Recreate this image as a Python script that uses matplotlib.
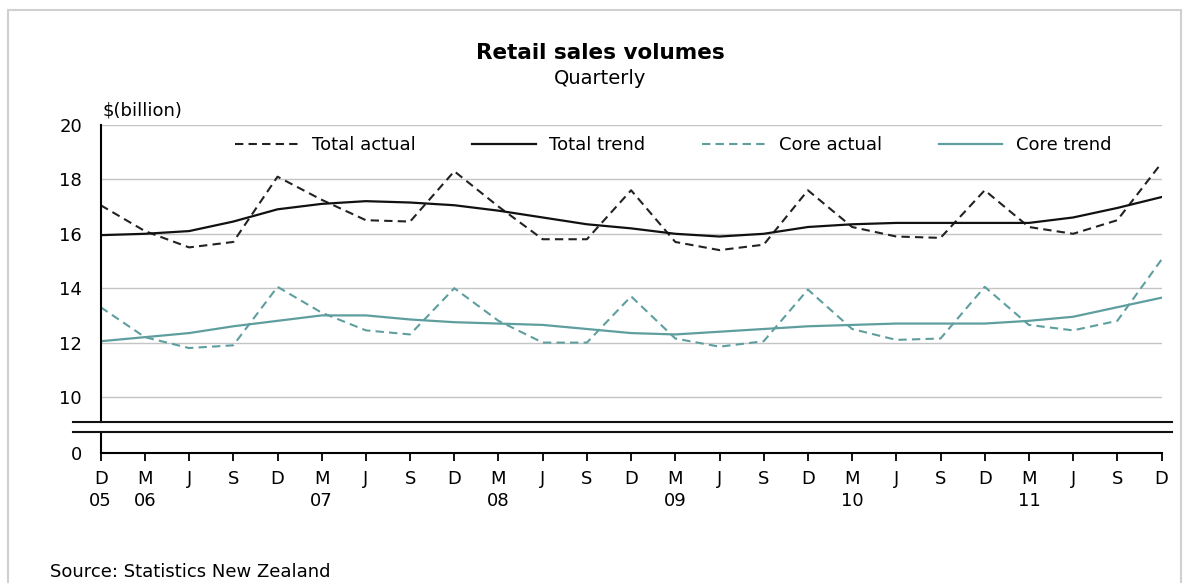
import numpy as np
import matplotlib
matplotlib.use("Agg")
import matplotlib.pyplot as plt
from matplotlib.lines import Line2D
from matplotlib.patches import Rectangle

# quarterly, Dec 2005 .. Dec 2011
months = ["D", "M", "J", "S"] * 6 + ["D"]
years = {0: "05", 1: "06", 5: "07", 9: "08", 13: "09", 17: "10", 21: "11"}

total_actual = [17.05, 16.1, 15.5, 15.7, 18.1, 17.25, 16.5, 16.45, 18.3, 17.0,
                15.8, 15.8, 17.6, 15.7, 15.4, 15.6, 17.6, 16.25, 15.9, 15.85,
                17.6, 16.25, 16.0, 16.5, 18.6]
total_trend = [15.95, 16.0, 16.1, 16.45, 16.9, 17.1, 17.2, 17.15, 17.05, 16.85,
               16.6, 16.35, 16.2, 16.0, 15.9, 16.0, 16.25, 16.35, 16.4, 16.4,
               16.4, 16.4, 16.6, 16.95, 17.35]
core_actual = [13.3, 12.2, 11.8, 11.9, 14.05, 13.1, 12.45, 12.3, 14.0, 12.8,
               12.0, 12.0, 13.7, 12.15, 11.85, 12.05, 13.95, 12.5, 12.1, 12.15,
               14.05, 12.65, 12.45, 12.8, 15.05]
core_trend = [12.05, 12.2, 12.35, 12.6, 12.8, 13.0, 13.0, 12.85, 12.75, 12.7,
              12.65, 12.5, 12.35, 12.3, 12.4, 12.5, 12.6, 12.65, 12.7, 12.7,
              12.7, 12.8, 12.95, 13.3, 13.65]

W, H = 1189, 583
TEAL = "#5f9e9e"
FS = 13

plt.rcParams["font.family"] = ["DejaVu Sans"]

fig = plt.figure(figsize=(W / 100, H / 100), dpi=100)


def fx(px):
    return px / W


def fy(py):
    return 1 - py / H


left, right = 100.7, 1161.5
ax = fig.add_axes([fx(left), fy(421.7), fx(right - left), fy(125) - fy(421.7)])
axb = fig.add_axes([fx(left), fy(452.7), fx(right - left), fy(431.7) - fy(452.7)])

x = np.arange(len(months))
dash = (0, (4, 2.5))
ax.plot(x, total_actual, color="#222222", lw=1.5, ls=dash, label="Total actual")
ax.plot(x, total_trend, color="#111111", lw=1.6, label="Total trend")
ax.plot(x, core_actual, color=TEAL, lw=1.5, ls=dash, label="Core actual")
ax.plot(x, core_trend, color=TEAL, lw=1.6, label="Core trend")

ax.set_xlim(0, 24)
ax.set_ylim(20 - (421.7 - 125) / 27.2, 20)
ax.set_yticks([10, 12, 14, 16, 18, 20])
ax.grid(axis="y", color="#c4c4c4", lw=1)
ax.set_axisbelow(True)
ax.set_xticks([])
for s in ["top", "right", "bottom"]:
    ax.spines[s].set_visible(False)
ax.spines["left"].set_linewidth(1.5)
ax.tick_params(axis="y", length=0, pad=13.5, labelsize=FS)

axb.set_xlim(0, 24)
axb.set_ylim(0, 1)
axb.set_yticks([0])
axb.tick_params(axis="y", length=0, pad=13.5, labelsize=FS)
for s in ["top", "right"]:
    axb.spines[s].set_visible(False)
axb.spines["left"].set_linewidth(1.5)
axb.spines["bottom"].set_linewidth(1.5)
labels = [m + ("\n" + years[i] if i in years else "") for i, m in enumerate(months)]
axb.set_xticks(x)
axb.set_xticklabels(labels, fontsize=FS, linespacing=1.25, va="top")
axb.tick_params(axis="x", length=5.5, width=1.3, pad=7, direction="out")

# axis break lines
for yy in (421.7, 431.7):
    fig.add_artist(Line2D([fx(73), fx(1171.7)], [fy(yy), fy(yy)],
                          color="#111111", lw=1.5))

ax.legend(loc="center left", bbox_to_anchor=(fx(235), fy(145)),
          bbox_transform=fig.transFigure, ncol=4, frameon=False,
          fontsize=FS, handlelength=3.5, handletextpad=0.75,
          columnspacing=3.15, borderpad=0, borderaxespad=0)

fig.text(fx(600), fy(53), "Retail sales volumes", ha="center", va="center",
         fontsize=15.5, fontweight="bold")
fig.text(fx(600), fy(79), "Quarterly", ha="center", va="center", fontsize=14)
fig.text(fx(102), fy(111), "$(billion)", ha="left", va="center", fontsize=FS)
fig.text(fx(50), fy(572), "Source: Statistics New Zealand", ha="left",
         va="center", fontsize=FS)

# light frame around the chart
fig.add_artist(Rectangle((fx(8), fy(600)), fx(1181 - 8), fy(10) - fy(600),
                         fill=False, edgecolor="#d0d0d0", lw=1.5,
                         transform=fig.transFigure))

fig.savefig("out.png", dpi=100)
